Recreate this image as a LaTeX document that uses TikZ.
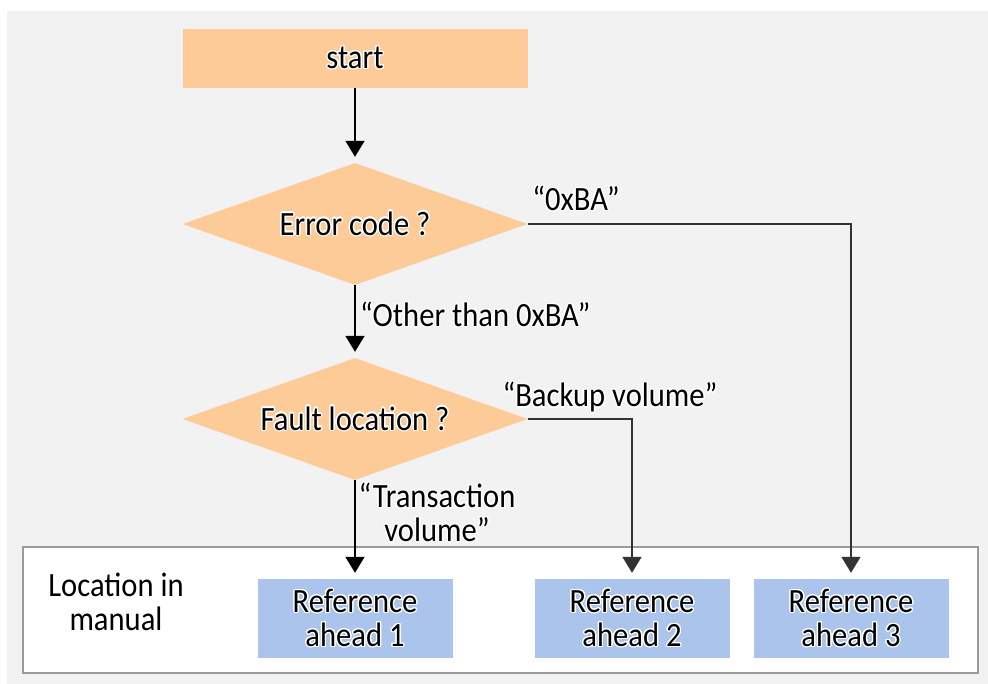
\documentclass[tikz,border=0pt]{standalone}
\usepackage{fontspec}
\setmainfont{Carlito}[FakeStretch=0.9]
\usepackage[copies]{contour}
\contourlength{1.3pt}
\contournumber{16}
\usetikzlibrary{shapes.geometric,arrows.meta}
\definecolor{bgray}{HTML}{F2F2F2}
\definecolor{peach}{HTML}{FDCB98}
\definecolor{refblue}{HTML}{AAC4EC}
\definecolor{boxline}{HTML}{9A9A9A}
\newcommand\hal[1]{\contour{white}{#1}}
\begin{document}
\begin{tikzpicture}[x=1pt,y=-1pt,
  txt/.style={font=\fontsize{34}{34}\selectfont, text=black, align=center},
  startbox/.style={txt, fill=peach, minimum width=345pt, minimum height=59pt, inner sep=0pt},
  decision/.style={txt, diamond, fill=peach, minimum width=345pt, minimum height=122pt, inner sep=0pt, aspect=2.8},
  refbox/.style={txt, fill=refblue, minimum width=195pt, minimum height=79pt, inner sep=0pt},
  lbl/.style={txt, inner sep=0pt},
  flow/.style={line width=1.6pt, draw=black, -{Triangle[width=19pt,length=16pt]}, shorten >=6pt},
  flowg/.style={flow, draw=black!80}
]
\useasboundingbox (0,0) rectangle (988,684);
\fill[bgray] (7,11) rectangle (988,684);
\draw[boxline, line width=1.8pt, fill=white] (23,547) rectangle (978,673);

\node[startbox] (st) at (355,58.5) {\hal{start}};
\node[decision] (d1) at (355,224) {\hal{Error code ?}};
\node[decision] (d2) at (355,419) {\hal{Fault location ?}};

\node[refbox] (r1) at (355,618.5) {\hal{Reference}\\\hal{ahead 1}};
\node[refbox] (r2) at (632,618.5) {\hal{Reference}\\\hal{ahead 2}};
\node[refbox] (r3) at (851,618.5) {\hal{Reference}\\\hal{ahead 3}};
\node[lbl] (loc) at (116,603) {\hal{Location in}\\\hal{manual}};

\draw[flow] (st) -- (d1);
\draw[flow] (d1) -- (d2);
\draw[flow] (d2) -- (r1);
\draw[flowg] (d1.east) -| (r2.north -| r3.north);
\draw[flowg] (d2.east) -| (r2.north);

\node[lbl, anchor=center] (l1) at (576,199) {\hal{“0xBA”}};
\node[lbl, anchor=west] (l2) at (360,315) {\hal{“Other than 0xBA”}};
\node[lbl, anchor=center] (l3) at (610,398) {\hal{“Backup volume”}};
\node[lbl, anchor=center] (l4) at (437,513) {\hal{“Transaction}\\\hal{volume”}};
\end{tikzpicture}
\end{document}
